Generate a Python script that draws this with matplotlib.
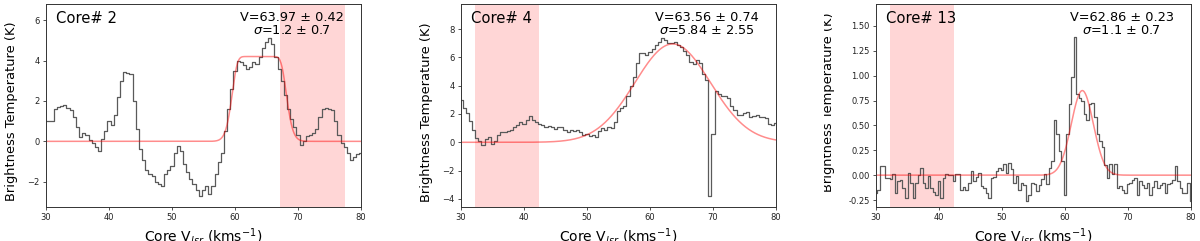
import numpy as np
import matplotlib
matplotlib.use("Agg")
import matplotlib.pyplot as plt
from matplotlib.transforms import Bbox, TransformedBbox

plt.rcParams['font.family'] = ['DejaVu Sans']

# ---------------- data ----------------
core_names = ["Core# 2", "Core# 4", "Core# 13"]
fit_v = ["63.97 ± 0.42", "63.56 ± 0.74", "62.86 ± 0.23"]
fit_sigma = ["1.2 ± 0.7", "5.84 ± 2.55", "1.1 ± 0.7"]

# channel grids (start, step)
chan_start = [30.0, 30.0, 30.0]
chan_step = [0.5, 0.5, 0.4]

spec_core2 = [
    1.0, 1.0, 1.0, 1.6, 1.7, 1.75, 1.8, 1.65, 1.55, 1.2,
    0.7, 0.2, 0.4, 0.3, 0.05, -0.1, -0.3, -0.5, 0.1, 0.5,
    1.0, 0.8, 1.3, 2.2, 3.0, 3.45, 3.4, 3.35, 2.0, 0.6,
    -0.4, -0.9, -1.4, -1.6, -1.7, -2.0, -2.1, -2.2, -1.6, -1.4,
    -1.2, -0.6, -0.25, -0.5, -1.1, -1.5, -1.85, -2.1, -2.4, -2.7,
    -2.4, -2.2, -2.6, -2.2, -1.6, -1.0, -0.6, 0.5, 1.6, 2.6,
    3.5, 4.0, 3.95, 3.8, 3.6, 3.7, 3.95, 3.85, 4.2, 4.6,
    4.9, 5.1, 4.8, 4.2, 3.6, 3.0, 2.3, 1.6, 1.1, 0.7,
    0.3, -0.2, 0.0, 0.25, 0.3, 0.4, 0.6, 1.2, 1.6, 1.65,
    1.6, 1.55, 1.0, 0.3, -0.1, -0.3, -0.6, -0.9, -0.75, -0.65,
    -0.6]

spec_core4 = [
    3.0, 2.4, 2.1, 1.5, 0.9, 0.3, 0.1, -0.2, 0.2, 0.4,
    -0.1, 0.1, 0.5, 0.7, 0.7, 0.8, 0.9, 1.1, 1.2, 1.4,
    1.3, 1.6, 1.85, 1.6, 1.4, 1.3, 1.2, 1.1, 1.15, 1.05,
    0.95, 1.1, 1.05, 0.9, 0.7, 0.85, 0.8, 0.9, 0.75, 0.55,
    0.6, 0.45, 0.5, 0.35, 0.8, 1.0, 0.9, 1.05, 1.0, 1.4,
    2.2, 2.4, 2.6, 3.3, 4.0, 4.6, 5.6, 6.3, 6.3, 6.2,
    6.4, 6.6, 6.9, 7.1, 7.35, 7.2, 7.0, 7.0, 7.1, 6.9,
    6.75, 6.45, 6.2, 5.7, 5.5, 5.8, 5.6, 4.8, 4.4, -3.8,
    0.6, 3.6, 3.4, 3.3, 3.25, 3.1, 2.6, 2.3, 1.9, 1.95,
    2.1, 2.15, 1.8, 1.85, 1.95, 1.8, 1.8, 1.7, 1.3, 1.25,
    1.35]

spec_core13 = [
    -0.18, -0.15, 0.09, 0.09, -0.03, -0.03, -0.04, 0.01, -0.18, -0.06,
    -0.05, -0.13, -0.23, 0.02, -0.08, -0.23, -0.08, 0.0, 0.07, -0.08,
    -0.13, -0.01, -0.13, -0.17, -0.2, -0.06, -0.23, -0.03, 0.01, 0.0,
    0.0, -0.06, 0.01, 0.01, -0.15, -0.12, -0.15, -0.08, 0.04, -0.06,
    -0.02, 0.02, -0.11, -0.13, -0.18, -0.23, -0.03, -0.02, 0.04, 0.07,
    0.05, 0.11, 0.02, 0.12, 0.06, -0.08, -0.01, -0.15, -0.08, -0.1,
    -0.26, -0.2, -0.08, -0.09, -0.16, -0.1, -0.04, 0.01, -0.09, 0.07,
    0.14, 0.55, 0.41, 0.24, 0.14, -0.2, 0.41, 0.72, 0.99, 1.39,
    0.82, 0.78, 0.75, 0.61, 0.55, 0.72, 0.73, 0.58, 0.41, 0.34,
    0.28, 0.1, -0.03, 0.11, 0.01, 0.11, -0.13, -0.11, -0.15, -0.18,
    -0.09, -0.08, -0.05, -0.03, -0.2, -0.06, -0.1, -0.13, -0.08, -0.2,
    -0.12, -0.06, -0.13, -0.1, -0.08, -0.18, -0.09, -0.08, -0.05, 0.09,
    -0.06, -0.13, -0.18, -0.18, -0.08, -0.26]

spectra = [spec_core2, spec_core4, spec_core13]

# fitted model parameters (amplitude, centre, width, optical depth or None)
fit_amp = [4.2, 6.95, 0.85]
fit_cen = [63.85, 63.6, 62.75]
fit_wid = [1.7, 6.0, 1.75]
fit_tau = [20.0, None, None]

# shaded velocity windows
shade_lo = [67.2, 32.3, 32.3]
shade_hi = [77.5, 42.4, 42.4]

ylims = [(-3.25, 6.8), (-4.57, 9.77), (-0.32, 1.72)]
yticks = [[-2, 0, 2, 4, 6], [-4, -2, 0, 2, 4, 6, 8],
          [-0.25, 0.0, 0.25, 0.5, 0.75, 1.0, 1.25, 1.5]]
xlim = (30, 80)
xticks = [30, 40, 50, 60, 70, 80]

# ---------------- figure ----------------
W, H = 1200, 241
fig = plt.figure(figsize=(W / 100, H / 100), dpi=100)
lefts_px = [46, 461, 876]
width_px = 315
top_px, bot_px = 4, 207
# left edge of each panel's image strip (the third panel strip is cropped)
strip_left_px = [0, 400, 824]
# y-label placement (axes fraction)
ylab_x = [-0.088, -0.0886, -0.130]
ylab_y = [0.473, 0.469, 0.517]

for k in range(3):
    ax = fig.add_axes([lefts_px[k] / W, (H - bot_px) / H,
                       width_px / W, (bot_px - top_px) / H])
    vals = np.array(spectra[k])
    v = chan_start[k] + chan_step[k] * np.arange(len(vals))
    ax.axvspan(shade_lo[k], shade_hi[k], color='red', alpha=0.16, lw=0)
    ax.plot(v, vals, drawstyle='steps-mid', color='#5a5a5a', lw=0.9)
    vm = np.linspace(xlim[0], xlim[1], 600)
    g = np.exp(-(vm - fit_cen[k]) ** 2 / (2 * fit_wid[k] ** 2))
    if fit_tau[k] is not None:
        model = fit_amp[k] * (1 - np.exp(-fit_tau[k] * g))
    else:
        model = fit_amp[k] * g
    ax.plot(vm, model, color='red', alpha=0.45, lw=1.1)

    ax.set_xlim(*xlim)
    ax.set_ylim(*ylims[k])
    ax.set_xticks(xticks)
    ax.set_yticks(yticks[k])
    if k == 2:
        ax.set_yticklabels(['%.2f' % t for t in yticks[k]])
    ax.tick_params(labelsize=6, length=2.5, width=0.6, pad=2,
                   colors='#333333', labelcolor='#222222')
    for s in ax.spines.values():
        s.set_linewidth(0.7)
        s.set_color('#333333')
    ax.set_xlabel(r'Core V$_{lsr}$ (kms$^{-1}$)', fontsize=10, labelpad=3)
    ylab = ax.set_ylabel('Brightness Temperature (K)', fontsize=9.4)
    ax.yaxis.set_label_coords(ylab_x[k], ylab_y[k])
    clip = TransformedBbox(Bbox([[strip_left_px[k] / W, 0.0], [1.0, 1.0]]),
                           fig.transFigure)
    ylab.set_clip_box(clip)
    ylab.set_clip_on(True)
    ax.text(0.032, 0.965, core_names[k], transform=ax.transAxes,
            fontsize=10.6, ha='left', va='top')
    ax.text(0.78, 0.965, 'V=' + fit_v[k] + '\n' + r'$\sigma$=' + fit_sigma[k],
            transform=ax.transAxes, fontsize=9.3, ha='center', va='top',
            linespacing=1.0)

fig.savefig('out.png', dpi=100)
